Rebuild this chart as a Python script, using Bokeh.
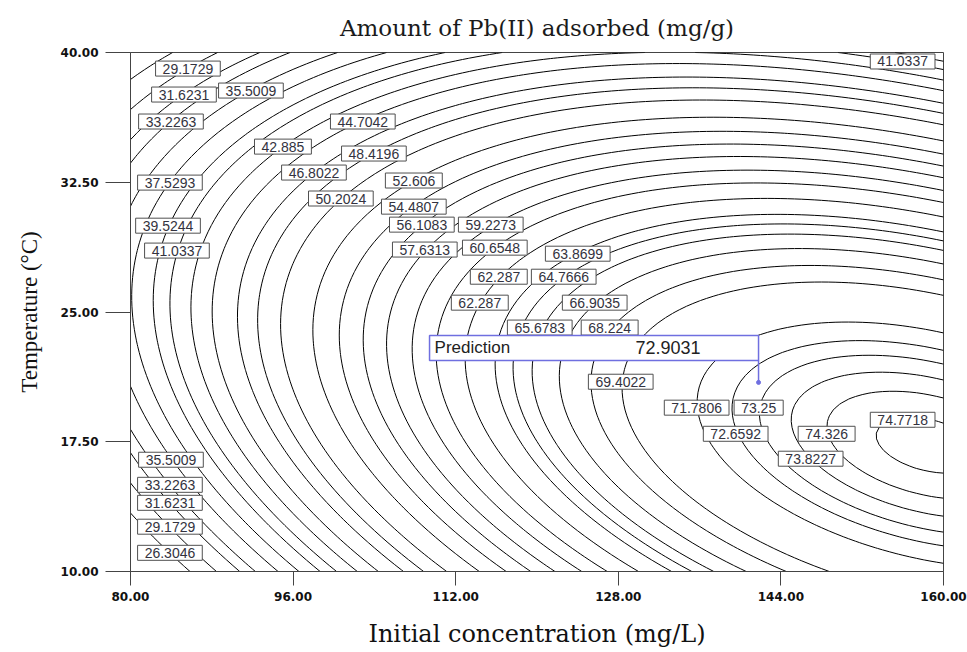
import numpy as np
from bokeh.plotting import figure
from bokeh.models import Range1d, FixedTicker, PrintfTickFormatter, ColumnDataSource, BoxAnnotation, Label
from bokeh.core.properties import value
from bokeh.embed import file_html
from bokeh.resources import INLINE

# ---------------- data ----------------
chart_title = "Amount of Pb(II) adsorbed (mg/g)"
x_title = "Initial concentration (mg/L)"
y_title = "Temperature (\u00b0C)"
x_ticks = [80, 96, 112, 128, 144, 160]
y_ticks = [10, 17.5, 25, 32.5, 40]

# contour labels: value and where the label sits (concentration, temperature)
label_values = [29.1729, 31.6231, 35.5009, 33.2263, 37.5293, 39.5244, 42.885, 46.8022,
                50.2024, 44.7042, 48.4196, 52.606, 54.4807, 56.1083, 59.2273, 41.0337,
                57.6313, 60.6548, 63.8699, 62.287, 64.7666, 62.287, 66.9035, 65.6783,
                68.224, 69.4022, 71.7806, 73.25, 72.6592, 74.326, 73.8227, 74.7718,
                41.0337, 35.5009, 33.2263, 31.6231, 29.1729, 26.3046]
label_conc = [85.65, 85.26, 91.85, 83.98, 83.88, 83.69, 95.00, 98.05,
              100.70, 102.86, 103.95, 107.88, 107.88, 108.67, 115.45, 84.57,
              108.96, 115.85, 124.01, 116.24, 122.63, 114.37, 125.68, 120.27,
              127.15, 128.24, 135.71, 141.81, 139.55, 148.50, 146.93, 155.98,
              155.98, 83.98, 83.88, 83.88, 83.88, 83.88]
label_temp = [39.07, 37.57, 37.80, 36.01, 32.48, 29.99, 34.56, 33.06,
              31.56, 36.01, 34.16, 32.60, 31.09, 30.05, 30.05, 28.55,
              28.61, 28.72, 28.37, 27.04, 27.04, 25.54, 25.54, 24.10,
              24.10, 20.97, 19.47, 19.47, 17.96, 17.96, 16.52, 18.77,
              39.48, 16.46, 15.01, 13.97, 12.59, 11.08]

# extra points traced on the 74.7718 contour (tip and right-edge crossings)
trace_values = [74.7718, 74.7718, 74.7718]
trace_conc = [153.64, 160.0, 160.0]
trace_temp = [17.46, 18.33, 15.34]

pred_conc = 141.8
pred_temp = 20.93
pred_value = 72.9031

# ---------------- response surface fitted to the read values ----------------
xc = (np.array(label_conc + trace_conc + [pred_conc]) - 120.0) / 40.0
tc = (np.array(label_temp + trace_temp + [pred_temp]) - 25.0) / 15.0
yv = np.array(label_values + trace_values + [pred_value])
wts = np.array([1.0] * len(label_values) + [3.0] * len(trace_values) + [3.0])
A = np.column_stack([np.ones_like(xc), xc, tc, xc ** 2, tc ** 2, xc * tc])
coef, *_ = np.linalg.lstsq(A * wts[:, None], yv * wts, rcond=None)

gx = np.linspace(80, 160, 121)
gt = np.linspace(10, 40, 91)
XX, TT = np.meshgrid(gx, gt)
Xc = (XX - 120.0) / 40.0
Tc = (TT - 25.0) / 15.0
Z = (coef[0] + coef[1] * Xc + coef[2] * Tc + coef[3] * Xc ** 2
     + coef[4] * Tc ** 2 + coef[5] * Xc * Tc)
levels = sorted(set(label_values))

# ---------------- figure ----------------
W, H = 967, 652
BL, BR, BT, BB = 130, 24, 52, 81
p = figure(width=W, height=H, x_range=Range1d(80, 160), y_range=Range1d(10, 40),
           output_backend="svg", toolbar_location=None,
           min_border_left=BL, min_border_right=BR, min_border_top=BT, min_border_bottom=BB)
p.grid.visible = False
p.background_fill_color = "white"
p.border_fill_color = "white"
p.outline_line_color = "#444444"
p.outline_line_width = 1

p.title.text = chart_title
p.title.align = "center"
p.title.text_font = "DejaVu Serif"
p.title.text_font_style = "normal"
p.title.text_font_size = "23px"
p.title.text_color = "#1a1a1a"
p.title.standoff = 23

p.xaxis.ticker = FixedTicker(ticks=x_ticks)
p.yaxis.ticker = FixedTicker(ticks=y_ticks)
p.xaxis.formatter = PrintfTickFormatter(format="%.2f")
p.yaxis.formatter = PrintfTickFormatter(format="%.2f")
for ax in (p.xaxis[0], p.yaxis[0]):
    ax.major_label_text_font = "DejaVu Sans"
    ax.major_label_text_font_style = "bold"
    ax.major_label_text_font_size = "12px"
    ax.major_label_text_color = "#111111"
    ax.minor_tick_line_color = None
    ax.major_tick_in = 0
    ax.axis_line_color = "#444444"
    ax.major_tick_line_color = "#444444"
    ax.axis_label_text_font_style = "normal"
    ax.axis_label_text_color = "#111111"
p.xaxis.major_tick_out = 14
p.xaxis.major_label_standoff = 6
p.yaxis.major_tick_out = 25
p.yaxis.major_label_standoff = 7
p.xaxis.axis_label = x_title
p.xaxis.axis_label_text_font = "DejaVu Serif"
p.xaxis.axis_label_text_font_size = "24px"
p.xaxis.axis_label_standoff = 16
p.yaxis.axis_label = y_title
p.yaxis.axis_label_text_font = "Liberation Serif"
p.yaxis.axis_label_text_font_size = "23px"
p.yaxis.axis_label_standoff = 16

# contour lines
p.contour(x=gx, y=gt, z=Z, levels=levels, line_color="black", line_width=1)

# contour labels
texts = [str(v) for v in label_values]
widths = [sum(3.9 if ch == "." else 7.8 for ch in s) + 14 for s in texts]
src = ColumnDataSource(dict(x=label_conc, y=label_temp, text=texts, w=widths))
p.rect(x="x", y="y", width="w", height=15, width_units="screen", height_units="screen",
       source=src, fill_color="white", line_color="#505050", line_width=1)
p.text(x="x", y="y", text="text", source=src, text_align="center", text_baseline="middle",
       text_font=value("Liberation Sans"), text_font_size="14px", text_color="#333340")

# prediction flag
px_per_x = (W - BL - BR) / 80.0
px_per_t = (H - BT - BB) / 30.0
box_right = pred_conc
box_left = pred_conc - 329 / px_per_x
box_bottom = pred_temp + 22 / px_per_t
box_top = box_bottom + 25 / px_per_t
blue = "#6f6fe0"
p.segment(x0=[pred_conc], y0=[pred_temp], x1=[pred_conc], y1=[box_bottom], line_color=blue, line_width=1.5)
p.scatter(x=[pred_conc], y=[pred_temp], size=4, color=blue)
p.add_layout(BoxAnnotation(left=box_left, right=box_right, bottom=box_bottom, top=box_top,
                           fill_color="white", fill_alpha=1.0, line_color=blue, line_width=1.5,
                           line_alpha=1.0))
box_mid = (box_bottom + box_top) / 2
p.add_layout(Label(x=box_left, y=box_mid, x_offset=5, text="Prediction", text_baseline="middle",
                   text_font="Liberation Sans", text_font_size="17px", text_color="#222222"))
p.add_layout(Label(x=pred_conc - 58 / px_per_x, y=box_mid, text=str(pred_value), text_align="right",
                   text_baseline="middle", text_font="Liberation Sans", text_font_size="18px",
                   text_color="#222222"))

open("out.html", "w").write(file_html(p, INLINE))
